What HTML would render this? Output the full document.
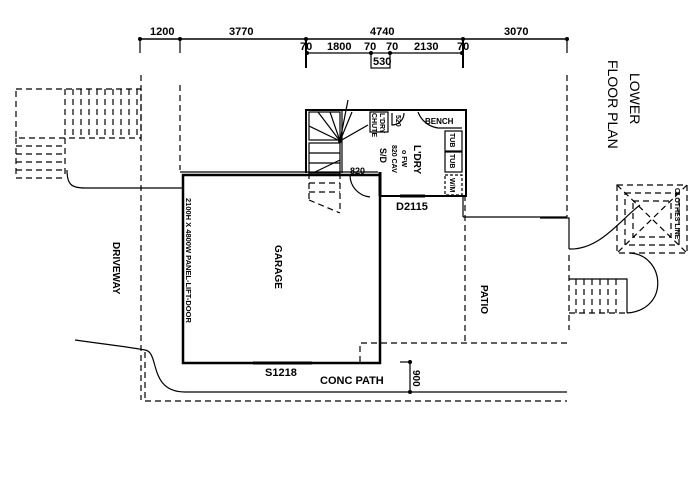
<!DOCTYPE html>
<html><head><meta charset="utf-8"><style>
html,body{margin:0;padding:0;background:#fff;}
svg{display:block;}
text{font-family:"Liberation Sans",sans-serif;fill:#000;font-weight:bold;}
</style></head><body>
<svg width="691" height="493" viewBox="0 0 691 493" xmlns="http://www.w3.org/2000/svg">
<g stroke="#000" fill="none" stroke-width="1.2">
<line x1="140" y1="39" x2="567" y2="39" stroke-width="1.5"/>
<line x1="140" y1="39" x2="140" y2="53"/><line x1="180" y1="39" x2="180" y2="53"/>
<line x1="567" y1="39" x2="567" y2="53"/>
<line x1="306" y1="39" x2="306" y2="68" stroke-width="2"/><line x1="463" y1="39" x2="463" y2="68" stroke-width="2"/>
<line x1="307" y1="53" x2="371" y2="53"/><line x1="390" y1="53" x2="462" y2="53"/>
<rect x="371" y="53" width="19" height="15"/>
<g stroke-dasharray="6,4">
<line x1="141" y1="75" x2="141" y2="400"/>
<line x1="180" y1="85" x2="180" y2="170"/>
<line x1="567" y1="75" x2="567" y2="217"/>
<line x1="569" y1="255" x2="569" y2="330"/>
<line x1="145" y1="401" x2="567" y2="401"/>
<line x1="145" y1="352" x2="145" y2="401"/>
<polyline points="360,362 360,343 567,343"/>
<line x1="465" y1="195" x2="465" y2="343"/>
<rect x="16" y="89" width="125" height="49"/>
<line x1="65" y1="89" x2="65" y2="138"/>
<line x1="73" y1="89" x2="73" y2="138"/><line x1="81" y1="89" x2="81" y2="138"/>
<line x1="89" y1="89" x2="89" y2="138"/><line x1="97" y1="89" x2="97" y2="138"/>
<line x1="105" y1="89" x2="105" y2="138"/><line x1="113" y1="89" x2="113" y2="138"/>
<line x1="121" y1="89" x2="121" y2="138"/><line x1="129" y1="89" x2="129" y2="138"/>
<line x1="137" y1="89" x2="137" y2="138"/>
<polyline points="16,138 16,178 65,178"/>
<line x1="16" y1="146" x2="65" y2="146"/><line x1="16" y1="154" x2="65" y2="154"/>
<line x1="16" y1="162" x2="65" y2="162"/><line x1="16" y1="170" x2="65" y2="170"/>
<line x1="65" y1="138" x2="65" y2="178"/>
<line x1="309" y1="173" x2="309" y2="200"/><line x1="340" y1="173" x2="340" y2="213"/>
<line x1="309" y1="183" x2="340" y2="183"/><line x1="309" y1="192" x2="340" y2="192"/>
<line x1="309" y1="200" x2="340" y2="213"/>
<rect x="617" y="185" width="70" height="68"/>
<rect x="625" y="193" width="54" height="52"/>
<rect x="633" y="201" width="38" height="36"/>
<line x1="617" y1="185" x2="687" y2="253"/><line x1="687" y1="185" x2="617" y2="253"/>
<line x1="576" y1="279" x2="576" y2="313"/><line x1="584" y1="279" x2="584" y2="313"/>
<line x1="592" y1="279" x2="592" y2="313"/><line x1="600" y1="279" x2="600" y2="313"/>
<line x1="608" y1="279" x2="608" y2="313"/><line x1="616" y1="279" x2="616" y2="313"/>
<line x1="569" y1="313" x2="627" y2="313"/>
</g>
<polyline points="569,279 627,279 627,313"/>
<path d="M627,313 C670,310 665,255 630,253"/>
<polyline points="540,218 569,218 569,249"/>
<path d="M569,249 C600,250 620,220 640,205"/>
<path d="M67,170 C67,185 72,188 85,188 L183,188"/>
<path d="M75,340 C110,345 130,347 145,350 C160,352 148,392 185,392 L567,392"/>
<rect x="183" y="175" width="197" height="188" stroke-width="2.5"/>
<line x1="253" y1="363" x2="312" y2="363" stroke-width="3"/>
<line x1="180" y1="172" x2="378" y2="172"/>
<polyline points="306,173 306,110 466,110 466,196 380,196" stroke-width="2"/>
<rect x="309" y="112" width="31" height="28"/>
<line x1="340" y1="141" x2="348" y2="100"/>
<line x1="340" y1="141" x2="309" y2="126"/><line x1="340" y1="141" x2="318" y2="112"/>
<line x1="340" y1="141" x2="330" y2="112"/><line x1="340" y1="141" x2="352" y2="112"/>
<line x1="340" y1="141" x2="368" y2="125"/>
<rect x="309" y="143" width="31" height="30"/>
<line x1="309" y1="153" x2="340" y2="153"/><line x1="309" y1="163" x2="340" y2="163"/>
<line x1="315" y1="172" x2="340" y2="160"/>
<line x1="342" y1="110" x2="342" y2="173"/>
<rect x="370" y="112" width="18" height="20"/>
<path d="M392,113 L392,125 A12,12 0 0 0 404,113" />
<path d="M418,112 A25,25 0 0 0 438,128 L462,128"/>
<rect x="445" y="131" width="17" height="20"/><rect x="445" y="152" width="17" height="20"/>
<rect x="445" y="175" width="17" height="20" stroke-dasharray="3,2"/>
<line x1="380" y1="172" x2="380" y2="196" stroke-width="3"/>
<path d="M350,175 A22,22 0 0 0 370,197"/>
<line x1="400" y1="196" x2="425" y2="196" stroke-width="3"/>
<line x1="463" y1="196" x2="463" y2="217"/>
<line x1="463" y1="217" x2="567" y2="217"/>
<line x1="400" y1="362" x2="410" y2="362"/>
<line x1="410" y1="362" x2="410" y2="392"/>
</g>
<g fill="#000">
<circle cx="140" cy="39" r="2"/><circle cx="180" cy="39" r="2"/><circle cx="306" cy="39" r="2"/>
<circle cx="463" cy="39" r="2"/><circle cx="567" cy="39" r="2"/>
<circle cx="307" cy="53" r="2"/><circle cx="371" cy="53" r="2"/><circle cx="390" cy="53" r="2"/><circle cx="462" cy="53" r="2"/>
<circle cx="410" cy="362" r="2"/><circle cx="410" cy="392" r="2"/><circle cx="340" cy="141" r="2"/>
</g>
<g font-size="11">
<text x="150" y="35">1200</text><text x="229" y="35">3770</text><text x="370" y="35">4740</text><text x="504" y="35">3070</text>
<text x="300" y="50">70</text><text x="327" y="50">1800</text><text x="364" y="50">70</text><text x="386" y="50">70</text>
<text x="414" y="50">2130</text><text x="457" y="50">70</text><text x="373" y="65">530</text>
<text x="265" y="376">S1218</text><text x="320" y="384">CONC PATH</text>
<text x="396" y="210">D2115</text><text x="350" y="174" font-size="9">820</text>
<text x="425" y="124" font-size="8">BENCH</text>
</g>
<g font-size="14">
<text transform="translate(630,73) rotate(90)" style="font-weight:normal">LOWER</text>
<text transform="translate(608,60) rotate(90)" style="font-weight:normal">FLOOR PLAN</text>
</g>
<g font-size="10">
<text transform="translate(113,242) rotate(90)">DRIVEWAY</text>
<text transform="translate(275,245) rotate(90)">GARAGE</text>
<text transform="translate(481,285) rotate(90)">PATIO</text>
<text transform="translate(186,198) rotate(90)" font-size="7.5">2100H X 4800W PANEL-LIFT-DOOR</text>
<text transform="translate(413,370) rotate(90)">900</text>
<text transform="translate(414,145) rotate(90)">L'DRY</text>
<text transform="translate(402,150) rotate(90)" font-size="7">o FW</text>
<text transform="translate(392,145) rotate(90)" font-size="7">820 CAV</text>
<text transform="translate(380,148) rotate(90)" font-size="9">S/D</text>
<text transform="translate(396,115) rotate(90)" font-size="7">520</text>
<text transform="translate(380,113) rotate(90)" font-size="7">L'DRY</text>
<text transform="translate(372,113) rotate(90)" font-size="7">CHUTE</text>
<text transform="translate(450,133) rotate(90)" font-size="7">TUB</text>
<text transform="translate(450,154) rotate(90)" font-size="7">TUB</text>
<text transform="translate(450,178) rotate(90)" font-size="7">W/M</text>
<text transform="translate(675,188) rotate(90)" font-size="7">CLOTHES LINE</text>
</g>
</svg>
</body></html>
